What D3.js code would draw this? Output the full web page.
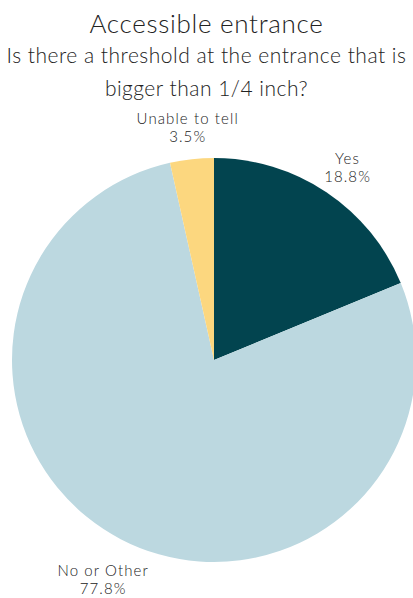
<!DOCTYPE html>
<html>
<head>
<meta charset="utf-8">
<script src="https://cdn.jsdelivr.net/npm/d3@7"></script>
<style>
  body { margin: 0; background: #fff; }
  text { font-family: Lato, "Open Sans", sans-serif; fill: #222; }
</style>
</head>
<body>
<div id="chart"></div>
<script>
// Data
var categories = ["Yes", "No or Other", "Unable to tell"];
var percents = [18.8, 77.8, 3.5];
var colors = ["#02444f", "#bcd8e0", "#fcd77f"];

var width = 413, height = 598;
var cx = 214, cy = 360, radius = 202, labelRadius = 240;

var svg = d3.select("#chart").append("svg")
	.attr("width", width)
	.attr("height", height);

// Titles
svg.append("text")
	.attr("x", width / 2).attr("y", 33)
	.attr("text-anchor", "middle")
	.style("font-size", "26px").style("font-weight", 300)
	.style("letter-spacing", "0.7px")
	.text("Accessible entrance");

var subtitle = ["Is there a threshold at the entrance that is", "bigger than 1/4 inch?"];
svg.selectAll(".sub").data(subtitle).enter().append("text")
	.attr("class", "sub")
	.attr("x", width / 2)
	.attr("y", function(d, i) { return 63 + i * 33; })
	.attr("text-anchor", "middle")
	.style("font-size", "21px").style("font-weight", 300)
	.style("letter-spacing", "0.5px")
	.text(function(d) { return d; });

// Pie
var table = categories.map(function(c, i) { return {name: c, value: percents[i], color: colors[i]}; });

var pie = d3.pie().sort(null).value(function(d) { return d.value; });
var arc = d3.arc().innerRadius(0).outerRadius(radius);
var labelArc = d3.arc().innerRadius(labelRadius).outerRadius(labelRadius);

var g = svg.append("g").attr("transform", "translate(" + cx + "," + cy + ")");

var arcs = pie(table);

g.selectAll("path").data(arcs).enter().append("path")
	.attr("d", arc)
	.attr("fill", function(d) { return d.data.color; });

// Labels: name and percent, as two separate texts on the label arc
var labels = g.selectAll(".label").data(arcs).enter().append("g")
	.attr("class", "label")
	.attr("transform", function(d) {
		var p = labelArc.centroid(d);
		return "translate(" + p[0] + "," + (p[1] + 3) + ")";
	});

labels.append("text")
	.attr("text-anchor", "middle")
	.style("font-size", "15px").style("font-weight", 300)
	.style("letter-spacing", "1.1px")
	.text(function(d) { return d.data.name; });
labels.append("text")
	.attr("text-anchor", "middle")
	.attr("y", 18)
	.style("font-size", "15px").style("font-weight", 300)
	.style("letter-spacing", "1.1px")
	.text(function(d) { return d.data.value.toFixed(1) + "%"; });
</script>
</body>
</html>
